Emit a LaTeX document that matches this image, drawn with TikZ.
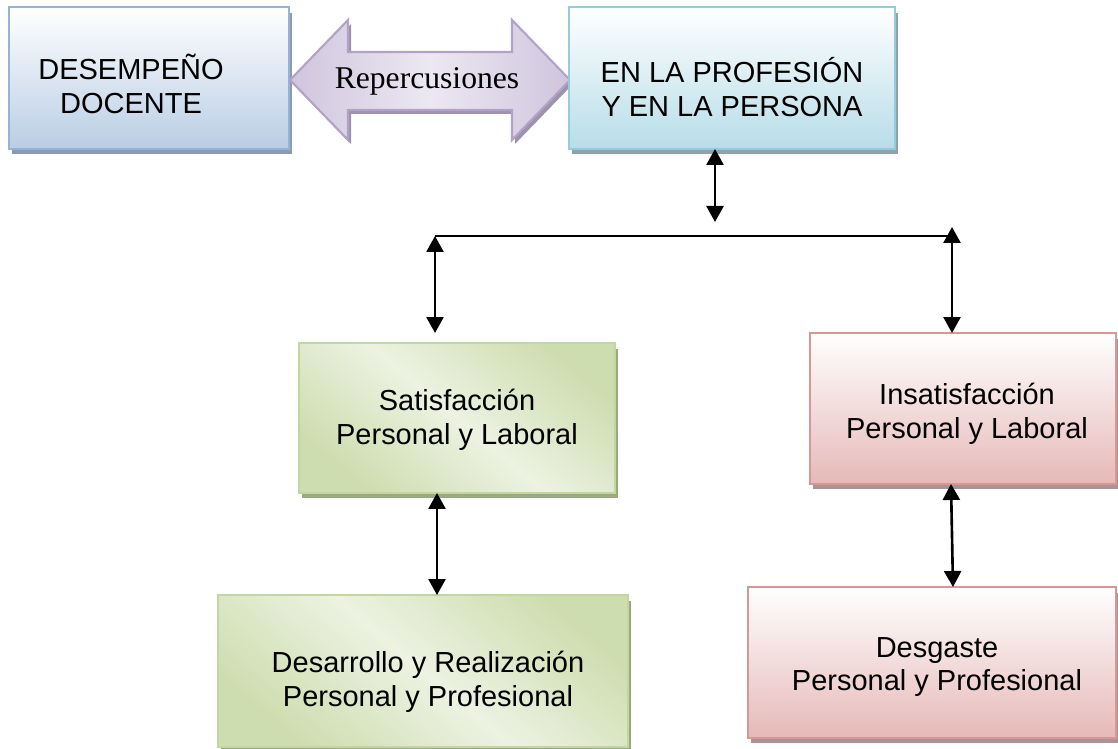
\documentclass[tikz,border=0pt]{standalone}
\usepackage{fontspec}
\setmainfont{Liberation Sans}
\newfontfamily\romfont{Liberation Serif}
\usetikzlibrary{shadows,arrows.meta}

\definecolor{blueline}{HTML}{95B3D7}
\definecolor{bluefill}{HTML}{B9CDE5}
\definecolor{blueshad}{HTML}{8C9BB0}
\definecolor{cyanline}{HTML}{93CDDD}
\definecolor{cyanfill}{HTML}{B7DDE8}
\definecolor{cyanshad}{HTML}{8FA3A8}
\definecolor{lilaline}{HTML}{B3A2C7}
\definecolor{lilafill}{HTML}{CFC5DD}
\definecolor{lilalight}{HTML}{ECE8F2}
\definecolor{lilashad}{HTML}{9E93AD}
\definecolor{greenline}{HTML}{C3D69B}
\definecolor{greenfill}{HTML}{CEDDAF}
\definecolor{greenlight}{HTML}{EDF2E2}
\definecolor{greenshad}{HTML}{9BA884}
\definecolor{redline}{HTML}{D99694}
\definecolor{redfill}{HTML}{E6B9B8}
\definecolor{redshad}{HTML}{A89494}

\tikzset{
  box/.style={rectangle, line width=1.2pt, inner sep=0pt, outer sep=0pt,
    drop shadow={shadow xshift=0.06cm, shadow yshift=-0.11cm, opacity=1, fill=#1}},
  bluebox/.style={box=blueshad, draw=blueline, top color=white, bottom color=bluefill},
  cyanbox/.style={box=cyanshad, draw=cyanline, top color=white, bottom color=cyanfill},
  greenbox/.style={box=greenshad, draw=greenline,
    top color=greenfill, bottom color=greenfill, middle color=greenlight, shading angle=-40},
  redbox/.style={box=redshad, draw=redline, top color=white, bottom color=redfill},
  bigarrow/.style={draw=lilaline, line width=1.2pt, left color=lilafill,
    right color=lilafill, middle color=lilalight,
    drop shadow={shadow xshift=0.06cm, shadow yshift=-0.08cm, opacity=1, fill=lilashad}},
  txt/.style={align=center, inner sep=0pt, font=\fontsize{16.5}{19.3}\selectfont},
  link/.style={line width=1.5pt, {Triangle[width=0.34cm,length=0.32cm]}-{Triangle[width=0.34cm,length=0.32cm]}}
}

\begin{document}
\begin{tikzpicture}[x=0.02cm, y=-0.02cm]
  \useasboundingbox (0,0) rectangle (1118,749);

  % upper row
  \node[bluebox, minimum width=5.6cm, minimum height=2.84cm] (desempeno) at (149,78) {};
  \node[txt] (desempenotxt) at (131,84) {DESEMPEÑO\\DOCENTE};

  \draw[bigarrow] (290,80) -- (348,20) -- (348,52) -- (512,52) -- (512,20) -- (570,80)
    -- (512,140) -- (512,110) -- (348,110) -- (348,140) -- cycle;
  \node[inner sep=0pt, font=\romfont\fontsize{18}{21}\selectfont] (repercusiones) at (427,81) {Repercusiones};

  \node[cyanbox, minimum width=6.52cm, minimum height=2.84cm] (profesion) at (732,78) {};
  \node[txt] (profesiontxt) at (732,87) {EN LA PROFESIÓN\\Y EN LA PERSONA};

  % green side
  \node[greenbox, minimum width=6.32cm, minimum height=3cm] (satis) at (457,418) {};
  \node[txt] (satistxt) at (457,420) {Satisfacción\\Personal y Laboral};

  \node[greenbox, minimum width=8.2cm, minimum height=3.04cm] (desarrollo) at (423,671) {};
  \node[txt] (desarrollotxt) at (428,682) {Desarrollo y Realización\\Personal y Profesional};

  % red side
  \node[redbox, minimum width=6.12cm, minimum height=3.02cm] (insatis) at (963,408.5) {};
  \node[txt] (insatistxt) at (967,414) {Insatisfacción\\Personal y Laboral};

  \node[redbox, minimum width=7.36cm, minimum height=3.02cm] (desgaste) at (932,662.5) {};
  \node[txt] (desgastetxt) at (937,667) {Desgaste\\Personal y Profesional};

  % connectors
  \coordinate (hub) at (715,222);
  \coordinate (busleft) at (435,236);
  \coordinate (busright) at (952,236);
  \coordinate (satisin) at (435,333);

  \draw[link] (hub |- profesion.south) -- (hub);
  \draw[line width=1.2pt] (busleft) -- (busright);
  \draw[link] (busleft) -- (satisin);
  \draw[link] ([yshift=0.18cm]busright) -- (busright |- insatis.north);
  \draw[link] ([xshift=-0.4cm]satis.south) -- ([xshift=-0.4cm]satis.south |- desarrollo.north);
  \draw[link] ([xshift=-0.24cm]insatis.south) -- ([xshift=0.42cm]desgaste.north);
\end{tikzpicture}
\end{document}
